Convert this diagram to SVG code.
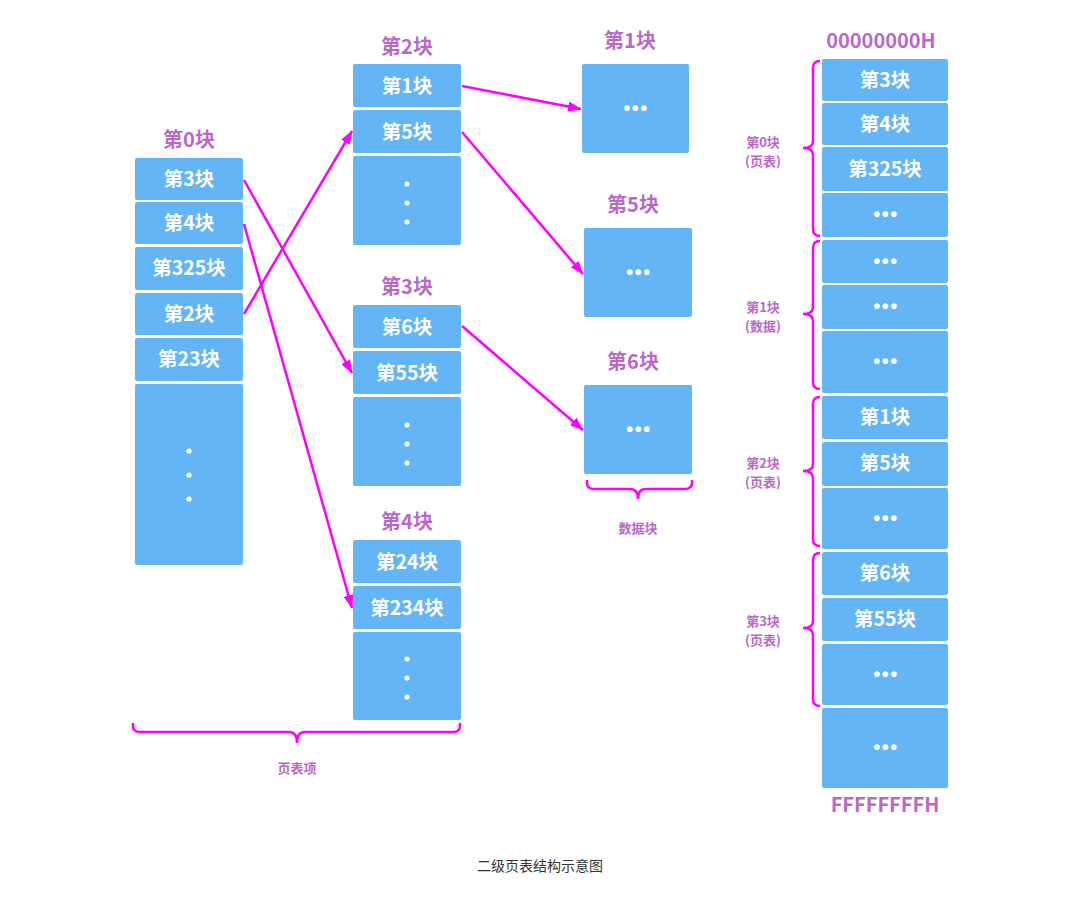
<svg xmlns="http://www.w3.org/2000/svg" width="1080" height="898" viewBox="0 0 1080 898">
<style>
.bx{fill:#64b5f6;}
.bt{fill:#ffffff;font-family:"Noto Sans CJK SC","Liberation Sans",sans-serif;font-weight:bold;font-size:19.5px;text-anchor:middle;}
.dt{fill:#ffffff;font-family:"Liberation Sans",sans-serif;font-weight:bold;font-size:20px;text-anchor:middle;letter-spacing:1.5px;}
.ti{fill:#ba68c8;font-family:"Noto Sans CJK SC","Liberation Sans",sans-serif;font-weight:bold;font-size:20px;text-anchor:middle;}
.lb{fill:#ba68c8;font-family:"Noto Sans CJK SC","Liberation Sans",sans-serif;font-weight:bold;font-size:13px;text-anchor:middle;}
.br{fill:none;stroke:#ff00ff;stroke-width:2.5;}
.ar{fill:none;stroke:#ff00ff;stroke-width:2.5;marker-end:url(#ah);}
.vd{fill:#ffffff;}
.cap{fill:#333333;font-family:"Noto Sans CJK SC","Liberation Sans",sans-serif;font-size:14px;text-anchor:middle;}
</style>
<defs>
<marker id="ah" viewBox="0 0 14 10" refX="13" refY="5" markerWidth="14" markerHeight="10" markerUnits="userSpaceOnUse" orient="auto">
<path d="M0,0 L14,5 L0,10 z" fill="#ff00ff"/>
</marker>
</defs>
<rect width="1080" height="898" fill="#ffffff"/>

<g id="table0">
<text class="ti" x="189" y="147">第0块</text>
<rect class="bx" x="135" y="158" width="108" height="42" rx="2"/><text class="bt" x="189" y="186">第3块</text>
<rect class="bx" x="135" y="202" width="108" height="42" rx="2"/><text class="bt" x="189" y="230">第4块</text>
<rect class="bx" x="135" y="247" width="108" height="43" rx="2"/><text class="bt" x="189" y="275">第325块</text>
<rect class="bx" x="135" y="293" width="108" height="42" rx="2"/><text class="bt" x="189" y="321">第2块</text>
<rect class="bx" x="135" y="338" width="108" height="43" rx="2"/><text class="bt" x="189" y="366">第23块</text>
<rect class="bx" x="135" y="384" width="108" height="181" rx="2"/>
<circle class="vd" cx="189" cy="451" r="2.6"/><circle class="vd" cx="189" cy="475" r="2.6"/><circle class="vd" cx="189" cy="499" r="2.6"/>
</g>

<g id="table2">
<text class="ti" x="407" y="54">第2块</text>
<rect class="bx" x="353" y="64" width="108" height="43" rx="2"/><text class="bt" x="407" y="93">第1块</text>
<rect class="bx" x="353" y="110" width="108" height="43" rx="2"/><text class="bt" x="407" y="139">第5块</text>
<rect class="bx" x="353" y="156" width="108" height="89" rx="2"/>
<circle class="vd" cx="407" cy="184" r="2.6"/><circle class="vd" cx="407" cy="203" r="2.6"/><circle class="vd" cx="407" cy="222" r="2.6"/>
</g>

<g id="table3">
<text class="ti" x="407" y="294">第3块</text>
<rect class="bx" x="353" y="305" width="108" height="43" rx="2"/><text class="bt" x="407" y="334">第6块</text>
<rect class="bx" x="353" y="351" width="108" height="43" rx="2"/><text class="bt" x="407" y="380">第55块</text>
<rect class="bx" x="353" y="397" width="108" height="89" rx="2"/>
<circle class="vd" cx="407" cy="425" r="2.6"/><circle class="vd" cx="407" cy="444" r="2.6"/><circle class="vd" cx="407" cy="463" r="2.6"/>
</g>

<g id="table4">
<text class="ti" x="407" y="529">第4块</text>
<rect class="bx" x="353" y="540" width="108" height="43" rx="2"/><text class="bt" x="407" y="569">第24块</text>
<rect class="bx" x="353" y="586" width="108" height="43" rx="2"/><text class="bt" x="407" y="615">第234块</text>
<rect class="bx" x="353" y="632" width="108" height="88" rx="2"/>
<circle class="vd" cx="407" cy="659" r="2.6"/><circle class="vd" cx="407" cy="678" r="2.6"/><circle class="vd" cx="407" cy="697" r="2.6"/>
</g>

<g id="data1">
<text class="ti" x="630" y="48">第1块</text>
<rect class="bx" x="582" y="64" width="107" height="89" rx="2"/>
<text class="dt" x="636" y="115">•••</text>
</g>
<g id="data5">
<text class="ti" x="633" y="212">第5块</text>
<rect class="bx" x="584" y="228" width="108" height="89" rx="2"/>
<text class="dt" x="639" y="279">•••</text>
</g>
<g id="data6">
<text class="ti" x="633" y="369">第6块</text>
<rect class="bx" x="584" y="385" width="108" height="89" rx="2"/>
<text class="dt" x="639" y="436">•••</text>
</g>

<g id="memory">
<text class="ti" x="881" y="48">00000000H</text>
<rect class="bx" x="822" y="59" width="126" height="42" rx="2"/><text class="bt" x="885" y="87">第3块</text>
<rect class="bx" x="822" y="103" width="126" height="42" rx="2"/><text class="bt" x="885" y="131">第4块</text>
<rect class="bx" x="822" y="147" width="126" height="44" rx="2"/><text class="bt" x="885" y="176">第325块</text>
<rect class="bx" x="822" y="193" width="126" height="44" rx="2"/><text class="dt" x="886" y="221">•••</text>
<rect class="bx" x="822" y="240" width="126" height="43" rx="2"/><text class="dt" x="886" y="268">•••</text>
<rect class="bx" x="822" y="285" width="126" height="44" rx="2"/><text class="dt" x="886" y="313">•••</text>
<rect class="bx" x="822" y="331" width="126" height="62" rx="2"/><text class="dt" x="886" y="368">•••</text>
<rect class="bx" x="822" y="396" width="126" height="43" rx="2"/><text class="bt" x="885" y="424">第1块</text>
<rect class="bx" x="822" y="442" width="126" height="44" rx="2"/><text class="bt" x="885" y="470">第5块</text>
<rect class="bx" x="822" y="488" width="126" height="61" rx="2"/><text class="dt" x="886" y="525">•••</text>
<rect class="bx" x="822" y="552" width="126" height="43" rx="2"/><text class="bt" x="885" y="580">第6块</text>
<rect class="bx" x="822" y="598" width="126" height="43" rx="2"/><text class="bt" x="885" y="626">第55块</text>
<rect class="bx" x="822" y="644" width="126" height="61" rx="2"/><text class="dt" x="886" y="681">•••</text>
<rect class="bx" x="822" y="708" width="126" height="80" rx="2"/><text class="dt" x="886" y="754">•••</text>
<text class="ti" x="885" y="812">FFFFFFFFH</text>
</g>

<g id="braces">
<path class="br" d="M820,61 Q813,61 813,68 L813,141 Q813,148 803,148 Q813,148 813,155 L813,229 Q813,236 820,236"/>
<path class="br" d="M820,241 Q813,241 813,248 L813,307 Q813,314 803,314 Q813,314 813,321 L813,382 Q813,389 820,389"/>
<path class="br" d="M820,397 Q813,397 813,404 L813,464 Q813,471 803,471 Q813,471 813,478 L813,539 Q813,546 820,546"/>
<path class="br" d="M820,553 Q813,553 813,560 L813,621 Q813,628 803,628 Q813,628 813,635 L813,699 Q813,706 820,706"/>
<path class="br" d="M133,723 L133,726 Q133,732 140,732 L289,732 Q297,732 297,743 Q297,732 305,732 L453,732 Q460,732 460,726 L460,723"/>
<path class="br" d="M587,480 L587,483 Q587,489 594,489 L630,489 Q638,489 638,499 Q638,489 646,489 L685,489 Q692,489 692,483 L692,480"/>
</g>

<g id="labels">
<text class="lb" x="763" y="147">第0块</text><text class="lb" x="763" y="166">(页表)</text>
<text class="lb" x="763" y="312">第1块</text><text class="lb" x="763" y="331">(数据)</text>
<text class="lb" x="763" y="468">第2块</text><text class="lb" x="763" y="487">(页表)</text>
<text class="lb" x="763" y="626">第3块</text><text class="lb" x="763" y="645">(页表)</text>
<text class="lb" x="297" y="773">页表项</text>
<text class="lb" x="638" y="533">数据块</text>
<text class="cap" x="540" y="871">二级页表结构示意图</text>
</g>

<g id="connectors">
<line class="ar" x1="244" y1="180" x2="352" y2="373"/>
<line class="ar" x1="244" y1="224" x2="352" y2="608"/>
<line class="ar" x1="244" y1="314" x2="352" y2="131"/>
<line class="ar" x1="462" y1="86" x2="581" y2="109"/>
<line class="ar" x1="462" y1="132" x2="583" y2="274"/>
<line class="ar" x1="462" y1="326" x2="583" y2="430"/>
</g>
</svg>
